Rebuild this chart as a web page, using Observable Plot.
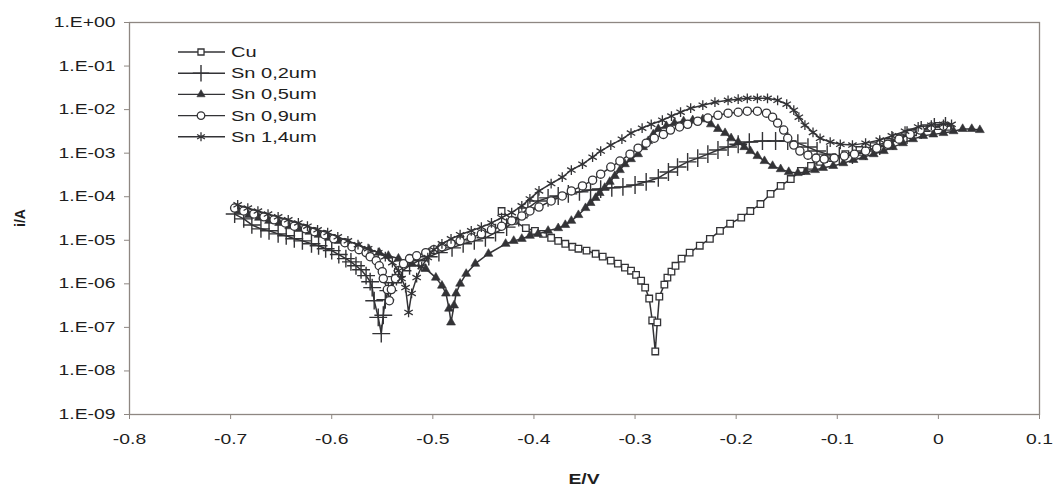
<!DOCTYPE html>
<html><head><meta charset="utf-8">
<script src="https://cdn.jsdelivr.net/npm/d3@7"></script>
<script src="https://cdn.jsdelivr.net/npm/@observablehq/plot@0.6"></script>
<style>
html,body{margin:0;padding:0;background:#fff;}
#chart{width:1055px;height:493px;}
</style></head><body><div id="chart"></div>
<script>
// ---- data (E in V, i in A) ----
const seriesNames = ["Cu", "Sn 0,2um", "Sn 0,5um", "Sn 0,9um", "Sn 1,4um"];

const cuE = [-0.432,-0.420,-0.408,-0.399,-0.391,-0.383,-0.376,-0.369,-0.362,-0.356,-0.348,-0.339,-0.332,-0.324,-0.317,-0.310,-0.304,-0.299,-0.294,-0.290,-0.286,-0.283,-0.280,-0.278,-0.276,-0.271,-0.268,-0.264,-0.260,-0.254,-0.246,-0.236,-0.226,-0.216,-0.206,-0.195,-0.186,-0.176,-0.166,-0.156,-0.146,-0.136,-0.126,-0.117,-0.105,-0.092,-0.078,-0.064,-0.050,-0.038,-0.025,-0.012,0.000,0.009];
const cuI = [4.7e-5,2.8e-5,1.9e-5,1.65e-5,1.4e-5,1.14e-5,9.7e-6,8.3e-6,7.1e-6,6.4e-6,5.8e-6,4.9e-6,4.2e-6,3.4e-6,2.9e-6,2.35e-6,2.0e-6,1.6e-6,1.18e-6,8.2e-7,4.6e-7,1.44e-7,2.8e-8,1.3e-7,5.1e-7,9.6e-7,1.39e-6,1.9e-6,2.6e-6,3.8e-6,5.2e-6,7.5e-6,1.08e-5,1.65e-5,2.4e-5,3.3e-5,4.7e-5,6.8e-5,1.16e-4,1.77e-4,2.55e-4,3.9e-4,5.1e-4,6.3e-4,7.7e-4,9.5e-4,1.18e-3,1.45e-3,1.8e-3,2.3e-3,3.0e-3,3.75e-3,4.2e-3,4.0e-3];

const sn02E = [-0.696,-0.687,-0.679,-0.670,-0.662,-0.653,-0.645,-0.637,-0.629,-0.620,
 -0.613,-0.606,-0.600,-0.593,-0.586,-0.581,-0.576,-0.571,-0.566,-0.562,
 -0.560,-0.558,-0.554,-0.551,-0.549,-0.547,-0.544,-0.540,-0.536,-0.530,
 -0.523,-0.514,-0.504,-0.494,-0.481,-0.470,-0.459,-0.448,-0.438,-0.427,
 -0.415,-0.406,-0.396,-0.386,-0.376,-0.366,-0.355,-0.344,-0.334,-0.323,
 -0.312,-0.300,-0.289,-0.277,-0.267,-0.258,-0.248,-0.238,-0.228,-0.218,
 -0.208,-0.198,-0.187,-0.174,-0.161,-0.149,-0.139,-0.129,-0.120,-0.110,
 -0.098,-0.085,-0.072,-0.058,-0.045,-0.031,-0.017,-0.004,0.007];
const sn02I = [4.0e-5,3.1e-5,2.25e-5,1.83e-5,1.65e-5,1.4e-5,1.27e-5,1.08e-5,9.7e-6,8.3e-6,
 7.5e-6,6.4e-6,5.8e-6,4.7e-6,3.8e-6,3.2e-6,2.6e-6,2.1e-6,1.54e-6,1.12e-6,
 8.2e-7,4.1e-7,1.7e-7,7.2e-8,1.9e-7,4.3e-7,7.0e-7,1.06e-6,1.46e-6,2.0e-6,
 2.6e-6,3.4e-6,4.2e-6,5.2e-6,6.7e-6,8.3e-6,9.7e-6,1.14e-5,1.5e-5,2.0e-5,
 3.3e-5,5.5e-5,8.0e-5,9.4e-5,1.04e-4,1.16e-4,1.29e-4,1.43e-4,1.5e-4,1.6e-4,
 1.68e-4,1.86e-4,2.2e-4,2.7e-4,3.7e-4,4.8e-4,6.3e-4,7.7e-4,9.5e-4,1.18e-3,
 1.38e-3,1.6e-3,1.8e-3,1.9e-3,1.9e-3,1.9e-3,1.7e-3,1.38e-3,1.12e-3,9.5e-4,
 8.6e-4,9.0e-4,1.12e-3,1.45e-3,1.9e-3,2.6e-3,3.4e-3,4.0e-3,4.2e-3];

const sn05E = [-0.692,-0.682,-0.672,-0.662,-0.652,-0.642,-0.632,-0.622,-0.613,-0.603,
 -0.593,-0.583,-0.573,-0.563,-0.553,-0.544,-0.534,-0.521,-0.507,-0.497,
 -0.491,-0.487,-0.484,-0.482,-0.479,-0.477,-0.473,-0.467,-0.458,-0.445,
 -0.428,-0.420,-0.412,-0.404,-0.396,-0.386,-0.376,-0.369,-0.363,-0.356,
 -0.349,-0.344,-0.339,-0.335,-0.330,-0.325,-0.320,-0.315,-0.310,-0.304,
 -0.297,-0.292,-0.287,-0.282,-0.277,-0.269,-0.261,-0.252,-0.243,-0.233,
 -0.225,-0.218,-0.211,-0.205,-0.198,-0.192,-0.186,-0.179,-0.172,-0.164,
 -0.156,-0.148,-0.139,-0.131,-0.122,-0.114,-0.104,-0.094,-0.084,-0.074,
 -0.064,-0.054,-0.045,-0.035,-0.025,-0.015,-0.005,0.005,0.015,0.024,0.033,0.041];
const sn05I = [4.7e-5,3.8e-5,3.3e-5,2.8e-5,2.5e-5,2.1e-5,1.83e-5,1.57e-5,1.34e-5,1.14e-5,
 9.7e-6,8.3e-6,7.1e-6,6.1e-6,5.2e-6,4.4e-6,3.8e-6,2.9e-6,2.2e-6,1.39e-6,
 9.1e-7,6.0e-7,2.7e-7,1.3e-7,3.2e-7,6.0e-7,1.01e-6,1.7e-6,2.9e-6,4.9e-6,
 8.3e-6,9.7e-6,1.08e-5,1.27e-5,1.4e-5,1.65e-5,1.9e-5,2.25e-5,2.8e-5,3.8e-5,
 5.5e-5,7.2e-5,9.4e-5,1.22e-4,1.6e-4,2.2e-4,3.0e-4,4.1e-4,5.6e-4,7.3e-4,
 9.5e-4,1.38e-3,1.9e-3,2.7e-3,3.6e-3,4.2e-3,4.9e-3,5.4e-3,5.7e-3,6.0e-3,
 4.6e-3,3.6e-3,2.9e-3,2.2e-3,1.8e-3,1.38e-3,1.12e-3,8.6e-4,6.6e-4,5.1e-4,
 4.3e-4,3.7e-4,3.5e-4,3.7e-4,4.1e-4,4.6e-4,5.1e-4,5.9e-4,7.0e-4,8.1e-4,
 9.5e-4,1.12e-3,1.38e-3,1.7e-3,2.1e-3,2.5e-3,2.7e-3,2.9e-3,3.2e-3,3.6e-3,3.6e-3,3.4e-3];

const sn09E = [-0.696,-0.687,-0.677,-0.667,-0.657,-0.646,-0.637,-0.626,-0.617,-0.607,
 -0.598,-0.587,-0.580,-0.573,-0.566,-0.562,-0.556,-0.553,-0.550,-0.549,
 -0.545,-0.543,-0.541,-0.537,-0.534,-0.529,-0.523,-0.516,-0.507,-0.499,
 -0.491,-0.482,-0.473,-0.462,-0.452,-0.442,-0.432,-0.422,-0.412,-0.404,
 -0.395,-0.383,-0.372,-0.363,-0.352,-0.342,-0.334,-0.324,-0.315,-0.305,
 -0.297,-0.289,-0.281,-0.272,-0.265,-0.256,-0.248,-0.238,-0.228,-0.218,
 -0.208,-0.198,-0.189,-0.179,-0.170,-0.164,-0.159,-0.153,-0.149,-0.143,
 -0.137,-0.129,-0.121,-0.113,-0.103,-0.093,-0.083,-0.072,-0.061,-0.050,
 -0.039,-0.028,-0.018,-0.007,0.005];
const sn09I = [5.5e-5,4.7e-5,4.0e-5,3.45e-5,2.95e-5,2.5e-5,2.1e-5,1.83e-5,1.57e-5,1.34e-5,
 1.08e-5,8.8e-6,7.1e-6,6.1e-6,5.2e-6,4.2e-6,3.4e-6,2.6e-6,1.9e-6,1.32e-6,
 7.4e-7,4.1e-7,7.4e-7,1.32e-6,2.0e-6,2.9e-6,3.8e-6,4.4e-6,5.2e-6,6.1e-6,
 7.1e-6,8.3e-6,9.7e-6,1.14e-5,1.4e-5,1.74e-5,2.1e-5,2.8e-5,3.6e-5,4.7e-5,
 5.8e-5,8.0e-5,1.04e-4,1.36e-4,1.77e-4,2.4e-4,3.3e-4,4.8e-4,6.6e-4,9.5e-4,
 1.3e-3,1.7e-3,2.2e-3,2.7e-3,3.4e-3,4.0e-3,4.6e-3,5.4e-3,6.4e-3,7.4e-3,
 8.3e-3,8.7e-3,9.2e-3,9.2e-3,8.3e-3,6.7e-3,4.9e-3,3.4e-3,2.2e-3,1.53e-3,
 1.12e-3,9.0e-4,7.7e-4,7.3e-4,7.7e-4,8.6e-4,9.5e-4,1.12e-3,1.3e-3,1.6e-3,
 2.1e-3,2.7e-3,3.4e-3,4.0e-3,4.2e-3];

const sn14E = [-0.693,-0.683,-0.673,-0.663,-0.653,-0.643,-0.633,-0.624,-0.614,-0.604,
 -0.594,-0.584,-0.574,-0.564,-0.554,-0.547,-0.540,-0.534,-0.531,-0.527,
 -0.524,-0.521,-0.516,-0.511,-0.505,-0.499,-0.491,-0.482,-0.473,-0.462,
 -0.452,-0.442,-0.432,-0.422,-0.412,-0.404,-0.395,-0.383,-0.372,-0.363,
 -0.352,-0.342,-0.334,-0.324,-0.313,-0.304,-0.293,-0.284,-0.273,-0.264,
 -0.255,-0.245,-0.233,-0.221,-0.208,-0.198,-0.189,-0.179,-0.169,-0.159,
 -0.150,-0.143,-0.138,-0.132,-0.124,-0.117,-0.107,-0.097,-0.085,-0.072,
 -0.058,-0.046,-0.033,-0.020,-0.007,0.005,0.013];
const sn14I = [6.5e-5,5.5e-5,4.7e-5,4.0e-5,3.45e-5,2.95e-5,2.5e-5,2.1e-5,1.74e-5,1.5e-5,
 1.2e-5,9.7e-6,7.9e-6,6.4e-6,5.2e-6,4.2e-6,3.05e-6,2.0e-6,1.32e-6,8.2e-7,
 2.2e-7,6.0e-7,1.39e-6,2.5e-6,4.0e-6,6.1e-6,8.3e-6,1.08e-5,1.34e-5,1.65e-5,
 2.0e-5,2.5e-5,3.3e-5,4.3e-5,6.2e-5,8.9e-5,1.36e-4,2.0e-4,2.8e-4,4.1e-4,
 5.6e-4,8.1e-4,1.12e-3,1.53e-3,2.1e-3,2.9e-3,3.75e-3,4.6e-3,5.7e-3,7.1e-3,
 8.7e-3,1.08e-2,1.26e-2,1.48e-2,1.64e-2,1.73e-2,1.82e-2,1.82e-2,1.82e-2,1.64e-2,
 1.33e-2,9.7e-3,6.7e-3,4.4e-3,3.0e-3,2.2e-3,1.8e-3,1.6e-3,1.53e-3,1.7e-3,
 2.0e-3,2.5e-3,3.2e-3,4.0e-3,4.4e-3,4.6e-3,4.6e-3];

const xTicks = [-0.8,-0.7,-0.6,-0.5,-0.4,-0.3,-0.2,-0.1,0,0.1];
const xTickLabels = ["-0.8","-0.7","-0.6","-0.5","-0.4","-0.3","-0.2","-0.1","0","0.1"];
const yTicks = [1,1e-1,1e-2,1e-3,1e-4,1e-5,1e-6,1e-7,1e-8,1e-9];
const yTickLabels = ["1.E+00","1.E-01","1.E-02","1.E-03","1.E-04","1.E-05","1.E-06","1.E-07","1.E-08","1.E-09"];

// ---- styling ----
const ink = "#333336";
const frameColor = "#8e8782";
const styles = [
  {symbol:"square",   r:3.7, fill:"white", sw:1.3},
  {symbol:"plus",     r:5.8, fill:"none",  sw:1.4},
  {symbol:"triangle", r:3.3, fill:ink,     sw:0.6},
  {symbol:"circle",   r:4.1, fill:"white", sw:1.3},
  {symbol:"asterisk", r:4.6, fill:"none",  sw:1.3}
];
const Es = [cuE, sn02E, sn05E, sn09E, sn14E];
const Is = [cuI, sn02I, sn05I, sn09I, sn14I];
Es.forEach((e,k)=>{ if (e.length !== Is[k].length) console.error("length mismatch", seriesNames[k], e.length, Is[k].length); });

const tables = Es.map((e,k) => {
  const n = Math.min(e.length, Is[k].length);
  return d3.range(n).map(j => ({series: seriesNames[k], E: e[j], I: Is[k][j]}));
});

const marks = [
  Plot.frame({stroke: frameColor, strokeWidth: 1.3}),
  Plot.axisX({ticks: xTicks, tickFormat: d => xTickLabels[xTicks.indexOf(d)], tickSize: 5, tickPadding: 15, label: null, fontSize: 14}),
  Plot.axisY({ticks: yTicks, tickFormat: d => yTickLabels[yTicks.indexOf(d)], tickSize: 5, tickPadding: 9, label: null, fontSize: 14})
];
tables.forEach((t,k) => {
  const s = styles[k];
  marks.push(Plot.line(t, {x: "E", y: "I", stroke: ink, strokeWidth: 1.5}));
  marks.push(Plot.dot(t, {x: "E", y: "I", symbol: s.symbol, r: s.r, fill: s.fill, stroke: ink, strokeWidth: s.sw}));
});

const svg = Plot.plot({
  width: 1055, height: 493,
  marginLeft: 129, marginRight: 16, marginTop: 22, marginBottom: 79,
  style: {fontFamily: "'Liberation Sans', Arial, sans-serif", fontSize: "14px", color: "#1e1e1e", background: "white"},
  x: {domain: [-0.8, 0.1]},
  y: {type: "log", domain: [1e-9, 1]},
  marks
});
document.getElementById("chart").append(svg);

const root = d3.select(svg);
root.selectAll('g[aria-label="x-axis tick"], g[aria-label="y-axis tick"]').attr("stroke", frameColor);

// axis titles
root.append("text").attr("x", 584).attr("y", 479).attr("dy", "0.35em").attr("text-anchor", "middle")
  .attr("font-weight", "bold").attr("font-size", 14).attr("fill", "#1e1e1e").attr("class", "stretch").text("E/V");
root.append("text").attr("transform", "translate(20,218) rotate(-90)").attr("dy", "0.35em").attr("text-anchor", "middle")
  .attr("font-weight", "bold").attr("font-size", 14).attr("fill", "#1e1e1e").text("i/A");

// legend (inside plot, top-left)
const symTypes = {square: d3.symbolSquare, plus: d3.symbolPlus, triangle: d3.symbolTriangle, circle: d3.symbolCircle, asterisk: d3.symbolAsterisk};
const lg = root.append("g").attr("text-anchor", "start");
seriesNames.forEach((name,k) => {
  const s = styles[k];
  const y = 52 + k * 21.2;
  lg.append("line").attr("x1", 178).attr("x2", 225).attr("y1", y).attr("y2", y).attr("stroke", ink).attr("stroke-width", 1.4);
  lg.append("path").attr("d", d3.symbol(symTypes[s.symbol], Math.PI * s.r * s.r * 0.85)())
    .attr("transform", `translate(201,${y})`).attr("fill", s.fill).attr("stroke", ink).attr("stroke-width", s.sw);
  lg.append("text").attr("x", 231).attr("y", y).attr("dy", "0.35em").attr("font-size", 14.5).attr("fill", "#1e1e1e")
    .attr("text-anchor", "start").attr("class", "stretch").text(name);
});

// horizontal stretch of the text, like the original
root.selectAll('g[aria-label="x-axis tick label"] text, g[aria-label="y-axis tick label"] text, text.stretch').each(function() {
  const L = this.getComputedTextLength();
  if (L > 0) { this.setAttribute("textLength", (L * 1.38).toFixed(1)); this.setAttribute("lengthAdjust", "spacingAndGlyphs"); }
});
</script></body></html>
